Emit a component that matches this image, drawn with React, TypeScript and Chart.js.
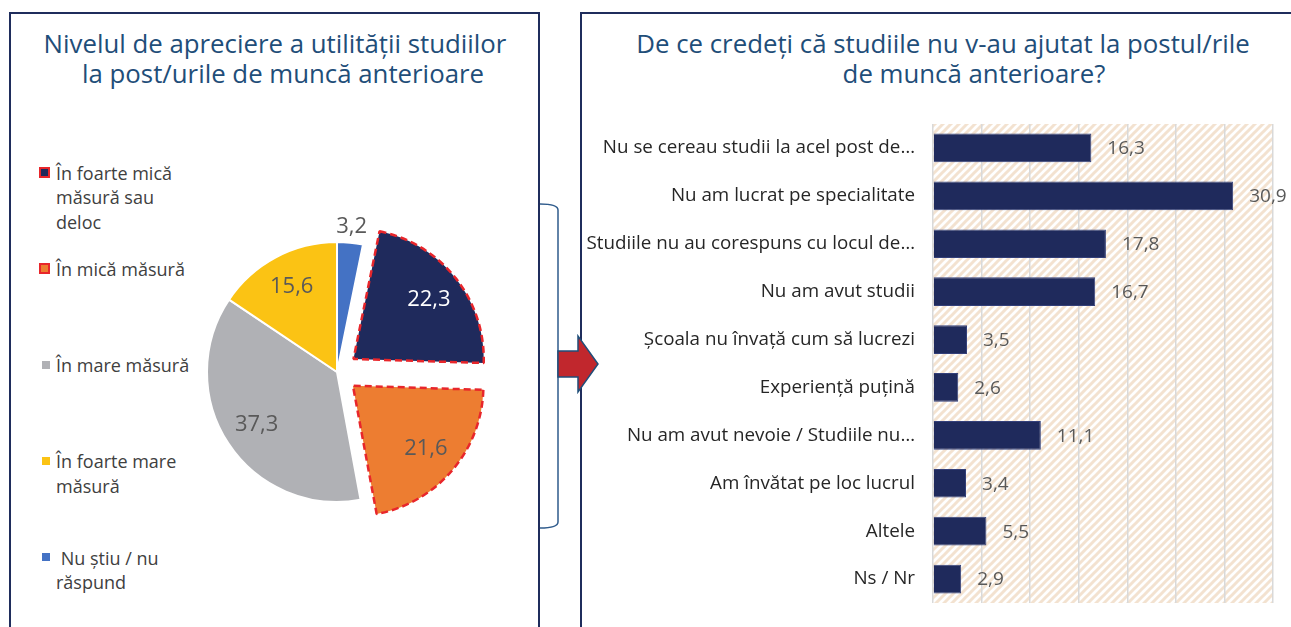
import React, { useEffect, useRef } from "react";
import { Chart, registerables } from "chart.js";

Chart.register(...registerables);

const FONT = "'Open Sans', Lato, sans-serif";
const TITLE_COLOR = "#1f4e79";
const LABEL_COLOR = "#595959";
const TEXT_COLOR = "#262626";
const FRAME_COLOR = "#1f2d5c";

const leftTitleLines = ["Nivelul de apreciere a utilității studiilor", "la post/urile de muncă anterioare"];
const rightTitleLines = ["De ce credeți că studiile nu v-au ajutat la postul/rile", "de muncă anterioare?"];

const pieCategories = [
  "În foarte mică măsură sau deloc",
  "În mică măsură",
  "În mare măsură",
  "În foarte mare măsură",
  "Nu știu / nu răspund",
];
const pieLegendLines = [
  ["În foarte mică", "măsură sau", "deloc"],
  ["În mică măsură"],
  ["În mare măsură"],
  ["În foarte mare", "măsură"],
  [" Nu știu / nu", "răspund"],
];
const pieValues = [22.3, 21.6, 37.3, 15.6, 3.2];
const pieColors = ["#1f2a5c", "#ed7d31", "#b0b1b5", "#fbc314", "#4472c4"];
const pieExploded = [true, true, false, false, false];
const pieLabelInside = [true, true, true, true, false];

const barCategories = [
  "Nu se cereau studii la acel post de…",
  "Nu am lucrat pe specialitate",
  "Studiile nu au corespuns cu locul de…",
  "Nu am avut studii",
  "Școala nu învață cum să lucrezi",
  "Experiență puțină",
  "Nu am avut nevoie / Studiile nu…",
  "Am învătat pe loc lucrul",
  "Altele",
  "Ns / Nr",
];
const barValues = [16.3, 30.9, 17.8, 16.7, 3.5, 2.6, 11.1, 3.4, 5.5, 2.9];
const barAxisMin = 0;
const barAxisMax = 35;
const barAxisStep = 5;

const fmt = (v: number) => v.toFixed(1).replace(".", ",");

function PieChart() {
  const ref = useRef<HTMLCanvasElement>(null);
  useEffect(() => {
    const total = pieValues.reduce((a, b) => a + b, 0);
    const labelPlugin = {
      id: "pieLabels",
      afterDatasetsDraw(chart: any) {
        const ctx = chart.ctx;
        const meta = chart.getDatasetMeta(0);
        ctx.save();
        ctx.font = `22px ${FONT}`;
        ctx.textAlign = "center";
        ctx.textBaseline = "middle";
        meta.data.forEach((arc: any, i: number) => {
          const p = arc.getProps(["x", "y", "startAngle", "endAngle", "outerRadius"], true);
          const mid = (p.startAngle + p.endAngle) / 2;
          const shift = (arc.options.offset || 0) / 4;
          const frac = pieLabelInside[i] ? 0.74 : 1.12;
          const r = p.outerRadius * frac + shift;
          ctx.fillStyle = i === 0 ? "#ffffff" : LABEL_COLOR;
          ctx.fillText(fmt(pieValues[i]), p.x + Math.cos(mid) * r, p.y + Math.sin(mid) * r);
        });
        ctx.restore();
      },
    };
    const chart = new Chart(ref.current as HTMLCanvasElement, {
      type: "pie",
      data: {
        labels: pieCategories,
        datasets: [
          {
            data: pieValues,
            backgroundColor: pieColors,
            borderColor: pieExploded.map((e) => (e ? "#e8262b" : "#ffffff")),
            borderWidth: pieExploded.map((e) => (e ? 2.5 : 2)),
            borderDash: (c: any) => (pieExploded[c.dataIndex] ? [7, 4] : []),
            offset: pieExploded.map((e) => (e ? 84 : 0)),
          } as any,
        ],
      },
      options: {
        responsive: false,
        animation: false,
        rotation: (360 * pieValues[pieValues.length - 1]) / total,
        radius: 130,
        layout: { padding: 0 },
        plugins: { legend: { display: false }, tooltip: { enabled: false } },
      } as any,
      plugins: [labelPlugin],
    });
    return () => chart.destroy();
  }, []);
  return (
    <canvas
      ref={ref}
      width={320}
      height={320}
      style={{ position: "absolute", left: 177, top: 212, width: 320, height: 320 }}
    />
  );
}

function BarChart() {
  const ref = useRef<HTMLCanvasElement>(null);
  useEffect(() => {
    const hatchPlugin = {
      id: "hatch",
      beforeDraw(chart: any) {
        const { ctx, chartArea } = chart;
        const tile = document.createElement("canvas");
        tile.width = 8;
        tile.height = 8;
        const t = tile.getContext("2d") as CanvasRenderingContext2D;
        t.fillStyle = "#ffffff";
        t.fillRect(0, 0, 8, 8);
        t.strokeStyle = "#f3e2d0";
        t.lineWidth = 3;
        t.beginPath();
        t.moveTo(-2, 10);
        t.lineTo(10, -2);
        t.moveTo(-2, 2);
        t.lineTo(2, -2);
        t.moveTo(6, 10);
        t.lineTo(10, 6);
        t.stroke();
        const pattern = ctx.createPattern(tile, "repeat");
        ctx.save();
        ctx.fillStyle = pattern;
        ctx.fillRect(chartArea.left, chartArea.top, chartArea.right - chartArea.left, chartArea.bottom - chartArea.top);
        ctx.restore();
      },
    };
    const valuePlugin = {
      id: "barValues",
      afterDatasetsDraw(chart: any) {
        const ctx = chart.ctx;
        const meta = chart.getDatasetMeta(0);
        ctx.save();
        ctx.font = `19px ${FONT}`;
        ctx.fillStyle = LABEL_COLOR;
        ctx.textAlign = "left";
        ctx.textBaseline = "middle";
        meta.data.forEach((bar: any, i: number) => {
          ctx.fillText(fmt(barValues[i]), bar.x + 16, bar.y + 1);
        });
        ctx.restore();
      },
    };
    const chart = new Chart(ref.current as HTMLCanvasElement, {
      type: "bar",
      data: {
        labels: barCategories,
        datasets: [
          {
            data: barValues,
            backgroundColor: "#1f2a5c",
            borderColor: "#34407a",
            borderWidth: 1,
            barPercentage: 0.6,
            categoryPercentage: 1,
          },
        ],
      },
      options: {
        indexAxis: "y",
        responsive: false,
        animation: false,
        layout: { padding: { top: 24, bottom: 24, right: 18, left: 0 } },
        plugins: { legend: { display: false }, tooltip: { enabled: false } },
        scales: {
          x: {
            min: barAxisMin,
            max: barAxisMax,
            ticks: { display: false, stepSize: barAxisStep },
            grid: { color: "#d9d9d9", lineWidth: 1.5, drawTicks: false },
            border: { display: false },
            afterFit(scale: any) {
              scale.height = 0;
              scale.paddingLeft = 0;
              scale.paddingRight = 0;
            },
          },
          y: {
            ticks: { font: { family: FONT, size: 18.8 }, color: TEXT_COLOR, padding: 18 },
            grid: { display: false, drawTicks: false },
            border: { display: false },
            afterFit(scale: any) {
              scale.width = 350;
              scale.paddingTop = 0;
              scale.paddingBottom = 0;
            },
          },
        },
      } as any,
      plugins: [hatchPlugin, valuePlugin],
    });
    return () => chart.destroy();
  }, []);
  return (
    <canvas
      ref={ref}
      width={708}
      height={527}
      style={{ position: "absolute", left: 583, top: 100, width: 708, height: 527 }}
    />
  );
}

function Legend() {
  const baseline = 19.2;
  return (
    <>
      {pieLegendLines.map((lines, i) => {
        const top = 160.8 + i * 96.2;
        const big = pieExploded[i];
        const size = big ? 11 : 8;
        return (
          <div key={i} style={{ position: "absolute", left: 0, top, width: 220 }}>
            <div
              style={{
                position: "absolute",
                left: big ? 39 : 42,
                top: baseline - 7.5 - size / 2,
                width: size,
                height: size,
                background: pieColors[i],
                border: big ? "2px dashed #e8262b" : "none",
                boxSizing: "border-box",
              }}
            />
            <div
              style={{
                position: "absolute",
                left: 56,
                top: 0,
                fontFamily: FONT,
                fontSize: 18,
                lineHeight: "24.5px",
                color: "#404040",
                whiteSpace: "pre",
              }}
            >
              {lines.map((l, j) => (
                <div key={j}>{l}</div>
              ))}
            </div>
          </div>
        );
      })}
    </>
  );
}

export default function App() {
  const titleStyle: React.CSSProperties = {
    position: "absolute",
    fontFamily: FONT,
    fontSize: 25.8,
    lineHeight: "30px",
    color: TITLE_COLOR,
    textAlign: "center",
    whiteSpace: "pre",
  };
  return (
    <div
      style={{
        position: "absolute",
        left: 0,
        top: 0,
        width: 1291,
        height: 627,
        overflow: "hidden",
        background: "#ffffff",
      }}
    >
      <div
        style={{
          position: "absolute",
          left: 9,
          top: 12,
          width: 531,
          height: 700,
          border: `2px solid ${FRAME_COLOR}`,
          boxSizing: "border-box",
        }}
      />
      <div
        style={{
          position: "absolute",
          left: 580,
          top: 12,
          width: 800,
          height: 700,
          border: `2px solid ${FRAME_COLOR}`,
          boxSizing: "border-box",
        }}
      />
      <div style={{ ...titleStyle, left: 10, top: 28.3, width: 530 }}>{leftTitleLines[0]}</div>
      <div style={{ ...titleStyle, left: 18, top: 58.3, width: 530 }}>{leftTitleLines[1]}</div>
      <div style={{ ...titleStyle, left: 581, top: 28.3, width: 724 }}>{rightTitleLines[0]}</div>
      <div style={{ ...titleStyle, left: 612, top: 58.3, width: 724 }}>{rightTitleLines[1]}</div>
      <Legend />
      <PieChart />
      <BarChart />
      <svg
        width={1291}
        height={627}
        style={{ position: "absolute", left: 0, top: 0, pointerEvents: "none" }}
      >
        <path
          d="M 540 204 Q 558 204 558 210 L 558 522 Q 558 528 540 528"
          fill="none"
          stroke="#2f5b8c"
          strokeWidth={1.5}
        />
        <polygon
          points="558,351 578,351 578,336 598,364 578,392 578,377 558,377"
          fill="#c1272d"
          stroke="#1f4e79"
          strokeWidth={1.5}
          strokeLinejoin="miter"
        />
      </svg>
    </div>
  );
}
